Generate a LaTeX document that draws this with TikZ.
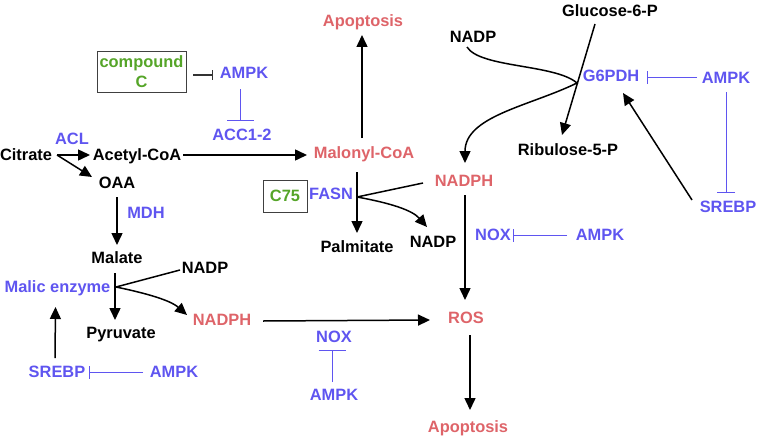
\documentclass[tikz,border=0pt]{standalone}
\usepackage{fontspec}
\setmainfont{Liberation Sans}
\usetikzlibrary{arrows.meta,calc}
\definecolor{eblue}{RGB}{95,85,240}
\definecolor{epink}{RGB}{222,100,105}
\definecolor{egreen}{RGB}{85,165,40}
\begin{document}
\begin{tikzpicture}[x=1pt,y=-1pt,
  lbl/.style={font=\fontsize{16.4}{18}\selectfont\bfseries, inner sep=0pt, text height=11.8pt, text depth=0pt},
  blk/.style={lbl,text=black},
  bl/.style={lbl,text=eblue},
  pk/.style={lbl,text=epink},
  boxed/.style={draw=black!75, line width=1pt, inner sep=0pt, align=center, text=egreen,
    font=\fontsize{16.4}{20}\selectfont\bfseries},
  act/.style={line width=1.5pt,-{Triangle[length=12pt,width=11pt]}},
  inh/.style={eblue,line width=0.9pt,-{Bar[width=#1,line width=1.2pt]}},
  inh/.default=13pt,
  inhk/.style={black!80,line width=1.5pt,-{Bar[width=#1,line width=1.5pt]}},
  inhk/.default=10pt
]
\useasboundingbox (0,0) rectangle (759,436);

% nodes
\node[pk] (apopT) at (363,21) {Apoptosis};
\node[blk] (g6p) at (610,11) {Glucose-6-P};
\node[blk] (nadpT) at (473,37) {NADP};
\node[boxed, minimum width=89pt, minimum height=40pt] (compC) at (141.5,72) {compound\\C};
\node[bl] (ampk1) at (244,73) {AMPK};
\node[bl] (acc) at (242,135) {ACC1-2};
\node[bl] (acl) at (72,139) {ACL};
\node[blk] (citrate) at (26,155) {Citrate};
\node[blk] (acetyl) at (137,155) {Acetyl-CoA};
\node[blk] (oaa) at (117,183) {OAA};
\node[pk] (malonyl) at (364,153) {Malonyl-CoA};
\node[boxed, minimum width=44pt, minimum height=32pt] (c75) at (285,196) {C75};
\node[bl] (fasn) at (331,194) {FASN};
\node[pk] (nadphM) at (464,181) {NADPH};
\node[blk] (ribulose) at (568,150) {Ribulose-5-P};
\node[bl] (g6pdh) at (611,76) {G6PDH};
\node[bl] (ampkR) at (726,78) {AMPK};
\node[bl] (srebpR) at (728,207) {SREBP};
\node[blk] (palm) at (357,247) {Palmitate};
\node[blk] (nadpM) at (433,242) {NADP};
\node[bl] (noxR) at (493,235) {NOX};
\node[bl] (ampkR2) at (600,235) {AMPK};
\node[pk] (ros) at (466,318) {ROS};
\node[pk] (apopB) at (468,427) {Apoptosis};
\node[bl] (noxB) at (334,337) {NOX};
\node[bl] (ampkB) at (334,395) {AMPK};
\node[bl] (mdh) at (146,213) {MDH};
\node[blk] (malate) at (117,258) {Malate};
\node[blk] (nadpL) at (205,268) {NADP};
\node[bl] (malic) at (57.5,287) {Malic enzyme};
\node[blk] (pyr) at (121,333) {Pyruvate};
\node[pk] (nadphB) at (222,320) {NADPH};
\node[bl] (srebpL) at (57,372) {SREBP};
\node[bl] (ampkL) at (174,372) {AMPK};

\coordinate (fb) at (357,197);
\coordinate (mb) at (116,287);

% connectors
\draw[inhk] ($(compC)+(51.5,3)$) -- ($(ampk1)+(-31,2)$);
\draw[inh=27pt] ($(ampk1)+(-4,16)$) -- ($(acc)+(-2,-14)$);
\draw[act] ($(citrate)+(31,0)$) -- ($(acetyl)+(-47,0)$);
\draw[act] ($(citrate)+(31,0)$) -- ($(oaa)+(-25,-6)$);
\draw[act] ($(acetyl)+(46,0)$) -- ($(malonyl)+(-57,2)$);
\draw[act] ($(malonyl)+(-2,-15)$) -- ($(apopT)+(-1,14)$);
\draw[act] ($(malonyl)+(-7,19)$) -- ($(palm)+(0,-14)$);
\draw[line width=1.5pt] ($(nadphM)+(-41,2)$) -- (fb);
\draw[act] (fb) .. controls (390,203) and (412,210) .. ($(nadpM)+(-6,-15)$);
\draw[act] ($(nadpT)+(-6,10)$) .. controls (480,68) and (555,64) .. (577,83)
   .. controls (530,106) and (465,116) .. ($(nadphM)+(1,-18)$);
\draw[act] ($(g6p)+(-15,13)$) -- ($(ribulose)+(-6,-15)$);
\draw[inh] ($(ampkR)+(-29,-1)$) -- ($(g6pdh)+(36,1)$);
\draw[inh=18pt] ($(ampkR)+(0,14)$) -- ($(srebpR)+(-2,-14)$);
\draw[act] ($(srebpR)+(-36,-7)$) -- ($(g6pdh)+(12,17)$);
\draw[act] ($(nadphM)+(1,14)$) -- ($(ros)+(-1,-18)$);
\draw[inh] ($(ampkR2)+(-33,0)$) -- ($(noxR)+(20,0)$);
\draw[act] ($(ros)+(4,17)$) -- ($(apopB)+(2,-17)$);
\draw[act] ($(nadphB)+(41,1)$) -- ($(ros)+(-36,2)$);
\draw[inh=27pt] ($(ampkB)+(-2,-13)$) -- ($(noxB)+(-2,13)$);
\draw[act] ($(oaa)+(0,14)$) -- ($(malate)+(0,-13)$);
\draw[act] ($(malate)+(-2,15)$) -- ($(pyr)+(-6,-13)$);
\draw[line width=1.5pt] (mb) -- ($(nadpL)+(-25,2)$);
\draw[act] (mb) .. controls (145,293) and (170,300) .. ($(nadphB)+(-35,-5)$);
\draw[act] ($(srebpL)+(-2,-14)$) -- ($(malic)+(-2,20)$);
\draw[inh] ($(ampkL)+(-31,0)$) -- ($(srebpL)+(32,0)$);
\end{tikzpicture}
\end{document}
